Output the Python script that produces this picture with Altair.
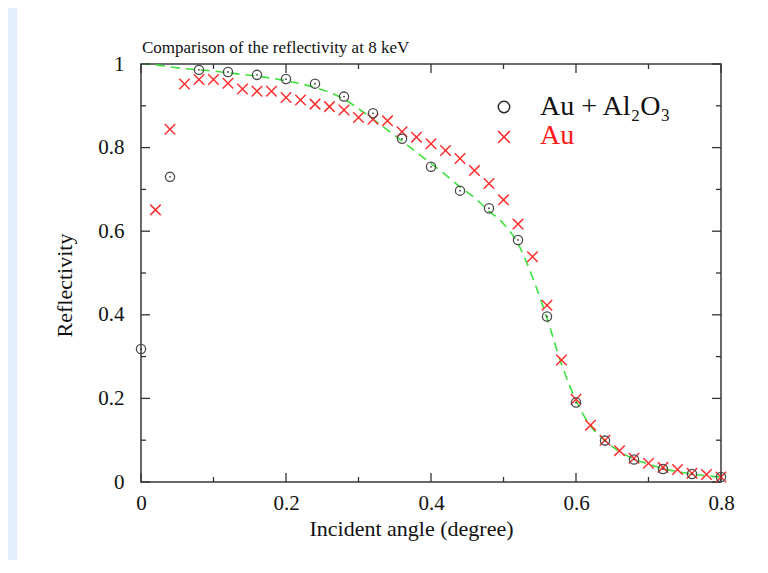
import altair as alt
import pandas as pd

# ---------------- data ----------------
title_text = ["Comparison of the reflectivity at 8 keV"]
x_title = "Incident angle (degree)"
y_title = "Reflectivity"
legend_labels = ["Au + Al\u2082O\u2083", "Au"]

angle_coated = [0.00, 0.04, 0.08, 0.12, 0.16, 0.20, 0.24, 0.28, 0.32, 0.36, 0.40,
                0.44, 0.48, 0.52, 0.56, 0.60, 0.64, 0.68, 0.72, 0.76, 0.80]
refl_coated = [0.318, 0.730, 0.986, 0.981, 0.974, 0.964, 0.953, 0.922, 0.882, 0.821, 0.754,
               0.697, 0.655, 0.579, 0.396, 0.190, 0.099, 0.054, 0.031, 0.019, 0.012]

angle_bare = [0.02, 0.04, 0.06, 0.08, 0.10, 0.12, 0.14, 0.16, 0.18, 0.20,
              0.22, 0.24, 0.26, 0.28, 0.30, 0.32, 0.34, 0.36, 0.38, 0.40,
              0.42, 0.44, 0.46, 0.48, 0.50, 0.52, 0.54, 0.56, 0.58, 0.60,
              0.62, 0.64, 0.66, 0.68, 0.70, 0.72, 0.74, 0.76, 0.78, 0.80]
refl_bare = [0.651, 0.844, 0.952, 0.963, 0.963, 0.954, 0.940, 0.935, 0.935, 0.920,
             0.914, 0.904, 0.898, 0.890, 0.872, 0.868, 0.864, 0.838, 0.825, 0.809,
             0.793, 0.774, 0.745, 0.714, 0.675, 0.617, 0.539, 0.423, 0.292, 0.198,
             0.136, 0.100, 0.075, 0.057, 0.045, 0.035, 0.030, 0.021, 0.018, 0.012]

fit_angle = [0.00, 0.02, 0.04, 0.06, 0.08, 0.10, 0.12, 0.14, 0.16, 0.18, 0.20,
             0.22, 0.24, 0.26, 0.28, 0.30, 0.32, 0.34, 0.36, 0.38, 0.40,
             0.42, 0.44, 0.46, 0.48, 0.50, 0.52, 0.54, 0.56, 0.58, 0.60,
             0.62, 0.64, 0.66, 0.68, 0.70, 0.72, 0.74, 0.76, 0.78, 0.80]
fit_refl = [1.000, 0.998, 0.993, 0.989, 0.986, 0.983, 0.979, 0.975, 0.971, 0.966, 0.960,
            0.953, 0.944, 0.932, 0.916, 0.893, 0.868, 0.842, 0.816, 0.789, 0.762,
            0.735, 0.706, 0.680, 0.648, 0.618, 0.570, 0.490, 0.392, 0.282, 0.195,
            0.134, 0.099, 0.073, 0.055, 0.043, 0.032, 0.025, 0.019, 0.015, 0.012]

x_major = [0.0, 0.2, 0.4, 0.6, 0.8]
x_minor = [0.1, 0.3, 0.5, 0.7]
y_major = [0.0, 0.2, 0.4, 0.6, 0.8, 1.0]
y_minor = [0.1, 0.3, 0.5, 0.7, 0.9]

# ---------------- frames ----------------
coated = pd.DataFrame({"angle": angle_coated, "refl": refl_coated})
bare = pd.DataFrame({"angle": angle_bare, "refl": refl_bare})
fit = pd.DataFrame({"angle": fit_angle, "refl": fit_refl})
xmaj = pd.DataFrame({"angle": x_major})
xmin = pd.DataFrame({"angle": x_minor})
ymaj = pd.DataFrame({"refl": y_major})
ymin = pd.DataFrame({"refl": y_minor})
one = pd.DataFrame({"k": [0]})

W, H = 580, 418
FONT = "Liberation Serif"
xs = alt.Scale(domain=[0, 0.8], nice=False, zero=False)
ys = alt.Scale(domain=[0, 1], nice=False, zero=False)

x_axis = alt.Axis(values=x_major, format="~g", ticks=False, tickSize=0, domain=False, grid=False,
                  labelFont=FONT, labelFontSize=21, labelColor="#111", labelPadding=10,
                  labelFlush=False, labelOverlap=False,
                  title=x_title, titleFont=FONT, titleFontSize=22, titleFontWeight="normal",
                  titleColor="#111", titleX=270, titleY=53, titleAlign="center",
                  titleBaseline="alphabetic")
y_axis = alt.Axis(values=y_major, format="~g", ticks=False, tickSize=0, domain=False, grid=False,
                  labelFont=FONT, labelFontSize=21, labelColor="#111", labelPadding=17,
                  labelFlush=False, labelOverlap=False,
                  title=y_title, titleFont=FONT, titleFontSize=22, titleFontWeight="normal",
                  titleColor="#111", titleX=-70, titleY=221, titleAngle=270, titleAlign="center",
                  titleBaseline="alphabetic")

X = alt.X("angle:Q", scale=xs, axis=x_axis)
Y = alt.Y("refl:Q", scale=ys, axis=y_axis)

band = alt.Chart(one).mark_rect(color="#e3effc").encode(
    x=alt.value(-133), x2=alt.value(-124), y=alt.value(-56), y2=alt.value(H + 90))

line = alt.Chart(fit).mark_line(color="#3ee03e", strokeDash=[9, 6], strokeWidth=1.6,
                                interpolate="monotone").encode(x=X, y=Y)

def rules(df, horizontal, at, to, width=1.3):
    if horizontal:
        enc = dict(y=Y, x=alt.value(at), x2=alt.value(to))
    else:
        enc = dict(x=X, y=alt.value(at), y2=alt.value(to))
    return alt.Chart(df).mark_rule(color="#333", strokeWidth=width).encode(**enc)

ticks = [
    rules(xmaj, False, H, H - 9), rules(xmin, False, H, H - 5),
    rules(xmaj, False, 0, 9), rules(xmin, False, 0, 5),
    rules(ymaj, True, 0, 9), rules(ymin, True, 0, 5),
    rules(ymaj, True, W, W - 9), rules(ymin, True, W, W - 5),
]

cross_path = "M-1,-1L1,1M-1,1L1,-1"

bare_pts = alt.Chart(bare).mark_point(shape=cross_path, filled=False, stroke="#ff3030",
                                      strokeWidth=1.5, size=110, opacity=1).encode(x=X, y=Y)

coated_pts = alt.Chart(coated).mark_point(shape="circle", filled=False, stroke="#4a4a4a",
                                          strokeWidth=1.3, size=85, opacity=1).encode(x=X, y=Y)
coated_dot = alt.Chart(coated).mark_point(shape="circle", filled=True, color="#333",
                                          size=3, opacity=1).encode(x=X, y=Y)

title = alt.Chart(pd.DataFrame({"t": title_text})).mark_text(
    font=FONT, fontSize=17, color="#111", align="left", baseline="alphabetic").encode(
    text="t:N", x=alt.value(1), y=alt.value(-11))

leg1_sym = alt.Chart(one).mark_point(shape="circle", filled=False, stroke="#222",
                                     strokeWidth=1.4, size=130, opacity=1).encode(
    x=alt.value(363), y=alt.value(43))
leg2_sym = alt.Chart(one).mark_point(shape=cross_path, filled=False, stroke="#ff2020",
                                     strokeWidth=1.5, size=140, opacity=1).encode(
    x=alt.value(363), y=alt.value(73))
leg1_txt = alt.Chart(pd.DataFrame({"t": [legend_labels[0]]})).mark_text(
    font=FONT, fontSize=28, color="#111", align="left", baseline="alphabetic").encode(
    text="t:N", x=alt.value(399), y=alt.value(51))
leg2_txt = alt.Chart(pd.DataFrame({"t": [legend_labels[1]]})).mark_text(
    font=FONT, fontSize=28, color="#ff1a1a", align="left", baseline="alphabetic").encode(
    text="t:N", x=alt.value(399), y=alt.value(80))

chart = alt.layer(
    band, line, *ticks, bare_pts, coated_pts, coated_dot, title,
    leg1_sym, leg2_sym, leg1_txt, leg2_txt
).properties(
    width=W, height=H,
    autosize=alt.AutoSizeParams(type="none"),
    padding={"left": 133, "top": 56, "right": 30, "bottom": 78},
    background="white",
).configure_view(stroke="#3a3a3a", strokeWidth=1.5)

chart.save("out.html", embed_options={"renderer": "svg", "actions": False})
